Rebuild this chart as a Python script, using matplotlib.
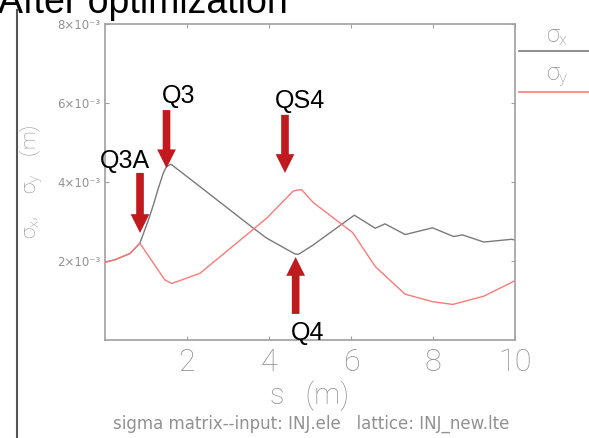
import matplotlib
matplotlib.use("Agg")
import matplotlib.pyplot as plt
from matplotlib.lines import Line2D

# Beam sizes along the injector line (values in metres)
s_x = [0, 0.24, 0.61, 0.85, 1.06, 1.18, 1.30, 1.42, 1.50, 1.61, 2.32, 3.62, 3.94, 4.63,
       4.72, 5.07, 6.08, 6.59, 6.83, 7.32, 7.99, 8.50, 8.72, 9.24, 9.92, 10.0]
sigma_x = [1.97, 2.03, 2.19, 2.45, 3.04, 3.42, 3.84, 4.22, 4.39, 4.45, 3.88, 2.83, 2.58,
           2.18, 2.17, 2.40, 3.16, 2.83, 2.94, 2.67, 2.84, 2.62, 2.66, 2.48, 2.55, 2.53]
s_y = [0, 0.24, 0.61, 0.85, 1.46, 1.63, 2.32, 3.94, 4.59, 4.72, 4.80, 5.08, 6.04,
       6.59, 7.32, 7.99, 8.48, 9.24, 10.0]
sigma_y = [1.97, 2.03, 2.19, 2.45, 1.52, 1.43, 1.69, 3.08, 3.77, 3.80, 3.80, 3.48, 2.72,
           1.86, 1.16, 0.97, 0.90, 1.11, 1.50]
sigma_x = [v * 1e-3 for v in sigma_x]
sigma_y = [v * 1e-3 for v in sigma_y]

x_ticks = [2, 4, 6, 8, 10]
x_tick_labels = ["2", "4", "6", "8", "10"]
y_ticks = [2e-3, 4e-3, 6e-3, 8e-3]
y_tick_labels = ["2×10⁻³", "4×10⁻³", "6×10⁻³", "8×10⁻³"]

# Magnet markers: name, s position, arrow tail/tip heights, label position
magnets = ["Q3A", "Q3", "QS4", "Q4"]
magnet_s = [0.854, 1.50, 4.39, 4.65]
arrow_tail = [4.23e-3, 5.82e-3, 5.70e-3, 0.66e-3]
arrow_tip = [2.71e-3, 4.35e-3, 4.23e-3, 2.10e-3]
label_s = [0.49, 1.79, 4.76, 4.93]
label_h = [4.35e-3, 6.0e-3, 5.87e-3, 0.0]

GRAY = "#a0a0a0"
TEXT_GRAY = "#919191"
LINE_GRAY = "#7a7a7a"
LINE_RED = "#ff7878"
ARROW_RED = "#c0191e"
THIN = ["Roboto", "DejaVu Sans"]

plt.rcParams["mathtext.fontset"] = "custom"
plt.rcParams["mathtext.rm"] = "Roboto:light"
plt.rcParams["mathtext.it"] = "Roboto:light"

fig = plt.figure(figsize=(5.89, 4.38), dpi=100)
W, H = 589, 438
ax = fig.add_axes([105 / W, 1 - 340 / H, 410 / W, 316 / H])

ax.plot(s_y, sigma_y, color=LINE_RED, lw=1.0, zorder=3)
ax.plot(s_x, sigma_x, color=LINE_GRAY, lw=1.0, zorder=2)

ax.set_xlim(0, 10)
ax.set_ylim(0, 8e-3)
ax.set_xticks(x_ticks)
ax.set_xticklabels(x_tick_labels, fontsize=22, color=TEXT_GRAY, family=THIN,
                   fontweight="light")
ax.set_yticks(y_ticks)
ax.set_yticklabels(y_tick_labels, fontsize=8.5, color=TEXT_GRAY, family="DejaVu Sans")
ax.tick_params(direction="in", length=3, width=0.8, color=GRAY, top=True, right=True,
               pad=3)
ax.tick_params(axis="x", pad=6)
for sp in ax.spines.values():
    sp.set_color(GRAY)
    sp.set_linewidth(1.2)

ax.set_xlabel("s   (m)", fontsize=21, color=TEXT_GRAY, family=THIN, fontweight="light",
              labelpad=2)
ax.set_ylabel(r"$\sigma_x,\ \ \ \sigma_y\ \ \ (m)$", fontsize=15, color=TEXT_GRAY,
              labelpad=9)

# Arrows marking the magnets
for name, s0, y0, y1, ls, lh in zip(magnets, magnet_s, arrow_tail, arrow_tip,
                                    label_s, label_h):
    ax.annotate("", xy=(s0, y1), xytext=(s0, y0),
                arrowprops=dict(arrowstyle="simple,head_length=13.5,head_width=13.5,tail_width=5.5",
                                mutation_scale=1, color=ARROW_RED, lw=0,
                                shrinkA=0, shrinkB=0),
                annotation_clip=False, zorder=5)
    ax.text(ls, lh, name, fontsize=18, family="Liberation Sans", color="black",
            ha="center", va="baseline", clip_on=False, zorder=6)

# Legend at the right of the frame
fig.text(557 / W, 1 - 36 / H, r"$\sigma_x$", fontsize=17, color=TEXT_GRAY, ha="center",
         va="center")
fig.add_artist(Line2D([519 / W, 1.0], [1 - 51 / H, 1 - 51 / H], color=LINE_GRAY, lw=1.2))
fig.text(557 / W, 1 - 77 / H, r"$\sigma_y$", fontsize=17, color=TEXT_GRAY, ha="center",
         va="center")
fig.add_artist(Line2D([519 / W, 1.0], [1 - 92 / H, 1 - 92 / H], color=LINE_RED, lw=1.2))

# Footer
fig.text(311 / W, 1 - 424 / H, "sigma matrix--input: INJ.ele   lattice: INJ_new.lte",
         fontsize=12, color=TEXT_GRAY, family="DejaVu Sans", ha="center",
         va="center")

# Slide title and frame line
fig.text(-2 / W, 1 - 13 / H, "After optimization", fontsize=27, family="Liberation Sans",
         color="black", ha="left", va="baseline")
fig.add_artist(Line2D([17 / W, 17 / W], [0, 1 - 10 / H], color="#555555", lw=1.5))

fig.savefig("out.png", dpi=100)
